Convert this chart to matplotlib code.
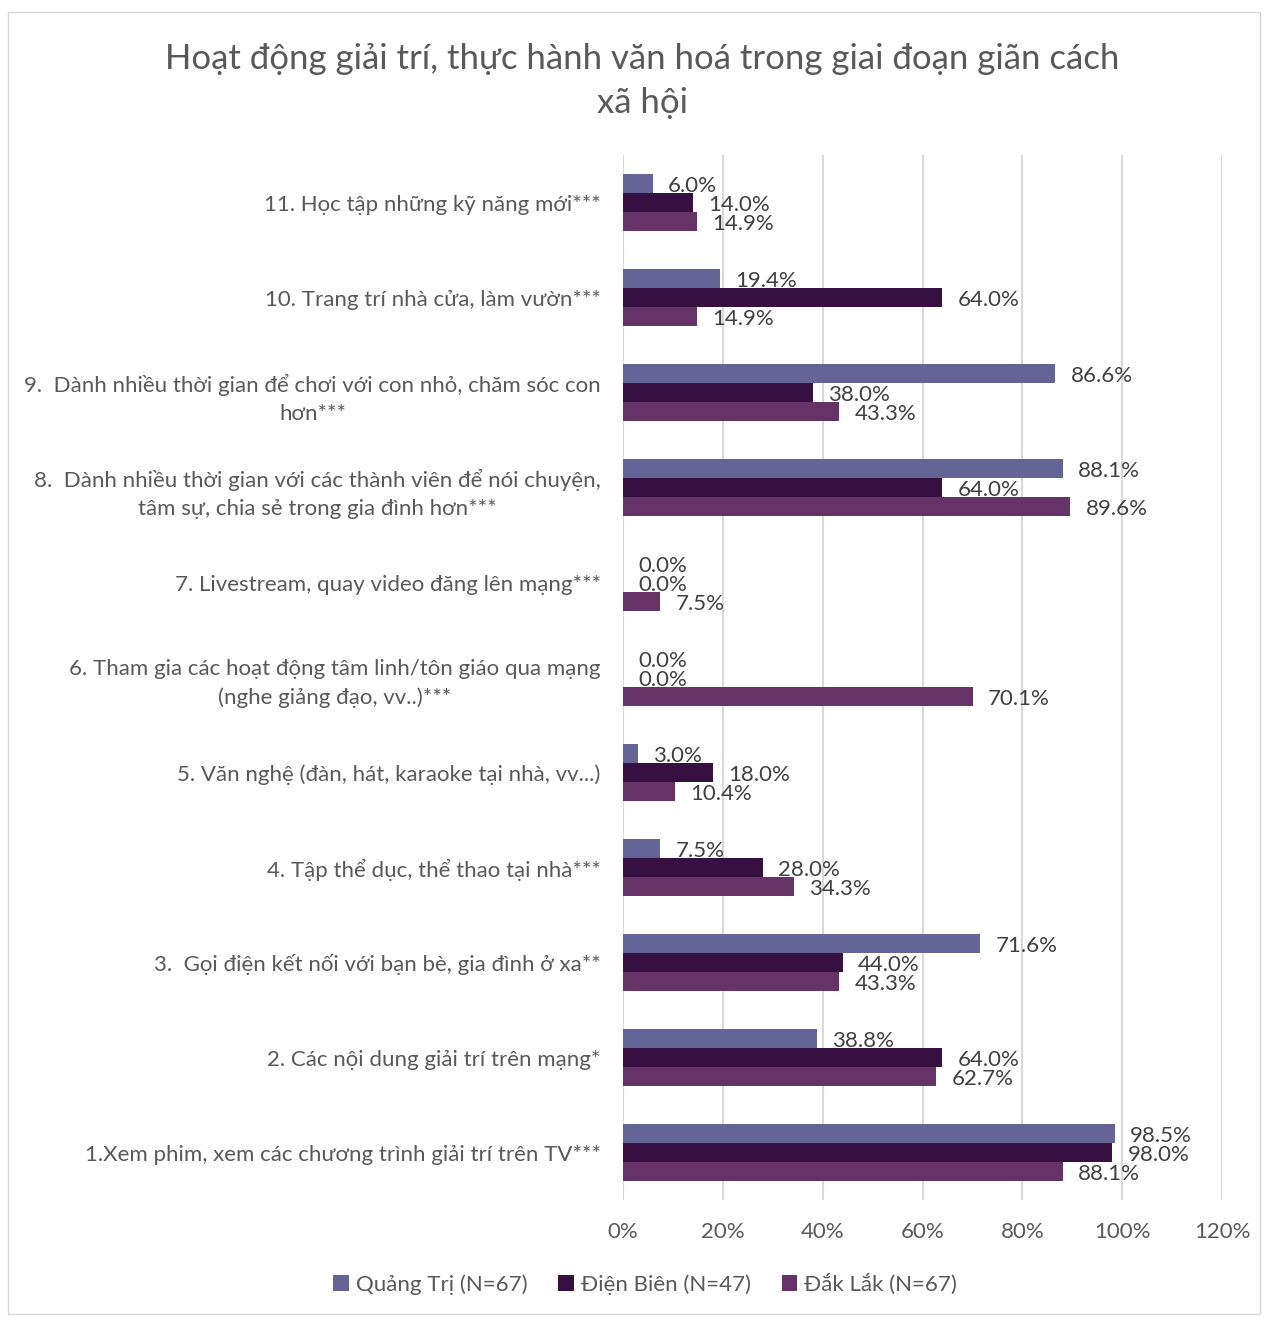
import numpy as np
import matplotlib
matplotlib.use("Agg")
import matplotlib.pyplot as plt
from matplotlib.patches import Rectangle

plt.rcParams['font.family'] = ['Lato', 'DejaVu Sans']

# data, categories listed bottom (1) to top (11)
categories = [
    "1.Xem phim, xem các chương trình giải trí trên TV***",
    "2. Các nội dung giải trí trên mạng*",
    "3.  Gọi điện kết nối với bạn bè, gia đình ở xa**",
    "4. Tập thể dục, thể thao tại nhà***",
    "5. Văn nghệ (đàn, hát, karaoke tại nhà, vv...)",
    "6. Tham gia các hoạt động tâm linh/tôn giáo qua mạng\n(nghe giảng đạo, vv..)***",
    "7. Livestream, quay video đăng lên mạng***",
    "8.  Dành nhiều thời gian với các thành viên để nói chuyện,\ntâm sự, chia sẻ trong gia đình hơn***",
    "9.  Dành nhiều thời gian để chơi với con nhỏ, chăm sóc con\nhơn***",
    "10. Trang trí nhà cửa, làm vườn***",
    "11. Học tập những kỹ năng mới***",
]
quang_tri = [98.5, 38.8, 71.6, 7.5, 3.0, 0.0, 0.0, 88.1, 86.6, 19.4, 6.0]
dien_bien = [98.0, 64.0, 44.0, 28.0, 18.0, 0.0, 0.0, 64.0, 38.0, 64.0, 14.0]
dak_lak = [88.1, 62.7, 43.3, 34.3, 10.4, 70.1, 7.5, 89.6, 43.3, 14.9, 14.9]
series_names = ["Quảng Trị (N=67)", "Điện Biên (N=47)", "Đắk Lắk (N=67)"]
colors = ["#646496", "#361040", "#663366"]

txt = "#595959"
fs = 16
fig = plt.figure(figsize=(12.65, 13.17), dpi=100)
ax = fig.add_axes([0.4925, 0.0888, 0.4735, 0.7935])

y = np.arange(len(categories))
h = 0.2
offsets = [h, 0, -h]
for vals, name, col, off in zip([quang_tri, dien_bien, dak_lak], series_names, colors, offsets):
    bars = ax.barh(y + off, vals, height=h, color=col, label=name, zorder=3)
    for b, v in zip(bars, vals):
        ax.annotate(f"{v:.1f}%", (b.get_width(), b.get_y() + b.get_height() / 2),
                    xytext=(11, -2), textcoords="offset points", va="center", ha="left",
                    fontsize=fs, color="#404040", zorder=4)

ax.set_xlim(0, 120)
ax.set_ylim(-0.5, len(categories) - 0.5)
ax.set_xticks(np.arange(0, 121, 20))
ax.set_xticklabels([f"{t}%" for t in range(0, 121, 20)], fontsize=fs, color=txt)
ax.set_yticks(y)
ax.set_yticklabels(categories, fontsize=fs, color=txt)
for lab in ax.get_yticklabels():
    lab.set_multialignment("center")
    lab.set_linespacing(1.5)
ax.tick_params(axis="y", length=0, pad=16)
ax.tick_params(axis="x", length=0, pad=16)
ax.grid(axis="x", color="#d9d9d9", linewidth=1.5, zorder=0)
for s in ax.spines.values():
    s.set_visible(False)

fig.text(0.508, 0.967, "Hoạt động giải trí, thực hành văn hoá trong giai đoạn giãn cách\nxã hội",
         ha="center", va="top", fontsize=25, color=txt, linespacing=1.45)

fig.legend(loc="center", bbox_to_anchor=(0.51, 0.025), ncol=3, frameon=False,
           fontsize=fs, labelcolor=txt, handlelength=0.7, handleheight=0.7,
           handletextpad=0.3, columnspacing=1.4)

fig.patches.append(Rectangle((0.006, 0.002), 0.99, 0.989, transform=fig.transFigure,
                             fill=False, edgecolor="#d9d9d9", linewidth=1))

fig.savefig("out.png", dpi=100, facecolor="white")
